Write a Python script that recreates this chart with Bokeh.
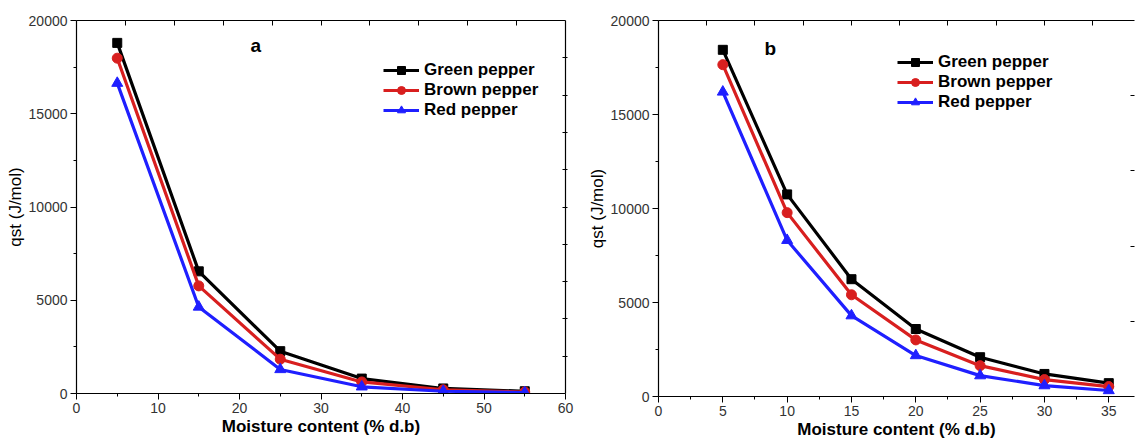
from bokeh.plotting import figure
from bokeh.layouts import row
from bokeh.models import (LinearAxis, FixedTicker, Legend, LegendItem, Label,
                          Range1d, CustomLabelingPolicy)
from bokeh.embed import file_html
from bokeh.resources import INLINE

# ---- data ----
xa = [5, 15, 25, 35, 45, 55]
green_a = [18800, 6550, 2270, 800, 270, 120]
brown_a = [17980, 5770, 1840, 620, 200, 80]
red_a = [16640, 4640, 1290, 360, 120, 50]

xb = [5, 10, 15, 20, 25, 30, 35]
green_b = [18440, 10750, 6240, 3590, 2090, 1200, 710]
brown_b = [17650, 9780, 5410, 3010, 1640, 900, 530]
red_b = [16200, 8310, 4300, 2180, 1110, 580, 320]

series_names = ["Green pepper", "Brown pepper", "Red pepper"]
colors = ["black", "#d81f1f", "#1f1fff"]
markers = ["square", "circle", "triangle"]
marker_sizes = [9, 10, 11]

y_major = [0, 5000, 10000, 15000, 20000]
y_minor = [2500, 7500, 12500, 17500]

FONT = "Liberation Sans"


def style_axis(ax, labels=True):
    ax.axis_line_color = "black"
    ax.axis_line_width = 1.2
    ax.major_tick_line_color = "black"
    ax.minor_tick_line_color = "black"
    ax.major_tick_out = 6
    ax.major_tick_in = 0
    ax.minor_tick_out = 3
    ax.minor_tick_in = 0
    ax.major_label_text_font = FONT
    ax.major_label_text_font_size = "14px"
    ax.major_label_text_color = "#333333"
    ax.major_label_standoff = 3
    ax.axis_label_text_font = FONT
    ax.axis_label_text_color = "black"
    if not labels:
        ax.major_label_policy = CustomLabelingPolicy(code="return new Set()")
        ax.major_label_text_font_size = "1px"
        ax.major_label_standoff = 0


def make_panel(x, ys, x_end, xt_major, xt_minor, top_ticks, right_ticks,
               frame_w, frame_h, b_left, b_right, b_top, b_bottom,
               leg_loc, letter, letter_x, letter_y, right_line=True):
    p = figure(frame_width=frame_w, frame_height=frame_h,
               x_range=Range1d(0, x_end), y_range=Range1d(0, 20000),
               output_backend="svg", toolbar_location=None,
               min_border_left=b_left, min_border_right=b_right,
               min_border_top=b_top, min_border_bottom=b_bottom,
               background_fill_color="white", border_fill_color="white")
    p.outline_line_color = None
    p.xgrid.visible = False
    p.ygrid.visible = False

    p.xaxis.ticker = FixedTicker(ticks=xt_major, minor_ticks=xt_minor)
    p.yaxis.ticker = FixedTicker(ticks=y_major, minor_ticks=y_minor)
    style_axis(p.xaxis[0])
    style_axis(p.yaxis[0])
    p.xaxis.axis_label = "Moisture content (% d.b)"
    p.xaxis.axis_label_text_font_size = "17px"
    p.xaxis.axis_label_text_font_style = "bold"
    p.xaxis.axis_label_standoff = 1
    p.yaxis.axis_label = "qst (J/mol)"
    p.yaxis.axis_label_text_font_size = "17px"
    p.yaxis.axis_label_text_font_style = "normal"
    p.yaxis.axis_label_standoff = 1

    top = LinearAxis(ticker=FixedTicker(ticks=top_ticks, minor_ticks=[]))
    style_axis(top, labels=False)
    top.major_tick_out = 0
    top.major_tick_in = 5
    p.add_layout(top, "above")

    right = LinearAxis(ticker=FixedTicker(ticks=right_ticks, minor_ticks=[]))
    style_axis(right, labels=False)
    right.major_tick_out = 2
    right.major_tick_in = 3
    if not right_line:
        right.axis_line_color = None
        right.major_tick_out = 0
        right.major_tick_in = 4
    p.add_layout(right, "right")

    items = []
    for name, yv, c, m, s in zip(series_names, ys, colors, markers, marker_sizes):
        l = p.line(x, yv, line_color=c, line_width=3.2)
        sc = p.scatter(x, yv, marker=m, size=s, fill_color=c, line_color=c)
        items.append(LegendItem(label=name, renderers=[l, sc]))

    leg = Legend(items=items, location=leg_loc)
    leg.border_line_color = None
    leg.background_fill_alpha = 0
    leg.label_text_font = FONT
    leg.label_text_font_style = "bold"
    leg.label_text_font_size = "17px"
    leg.label_text_color = "black"
    leg.glyph_width = 36
    leg.glyph_height = 20
    leg.label_height = 20
    leg.label_standoff = 5
    leg.spacing = 0
    leg.padding = 0
    leg.margin = 0
    p.add_layout(leg)

    p.add_layout(Label(x=letter_x, y=letter_y, text=letter,
                       text_font=FONT, text_font_style="bold",
                       text_font_size="19px", text_align="center",
                       text_baseline="middle", text_color="black"))
    return p


p1 = make_panel(xa, [green_a, brown_a, red_a], 60,
                [0, 10, 20, 30, 40, 50, 60], [5, 15, 25, 35, 45, 55],
                [6, 12, 18, 24, 30, 36, 42, 48, 54],
                [2000, 4000, 6000, 8000, 10000, 12000, 14000, 16000, 18000],
                489, 373, 76, 19, 19, 47,
                (307, 273), "a", 22, 18650)

p2 = make_panel(xb, [green_b, brown_b, red_b], 37.0,
                [0, 5, 10, 15, 20, 25, 30, 35],
                [2.5, 7.5, 12.5, 17.5, 22.5, 27.5, 32.5],
                [3.75, 7.5, 11.25, 15, 18.75, 22.5, 26.25, 30, 33.75],
                [4000, 8000, 12000, 16000],
                476, 376, 68, 1, 20, 43,
                (239, 284), "b", 8.7, 18500, right_line=False)

layout = row(p1, p2)
open("out.html", "w").write(file_html(layout, INLINE))
